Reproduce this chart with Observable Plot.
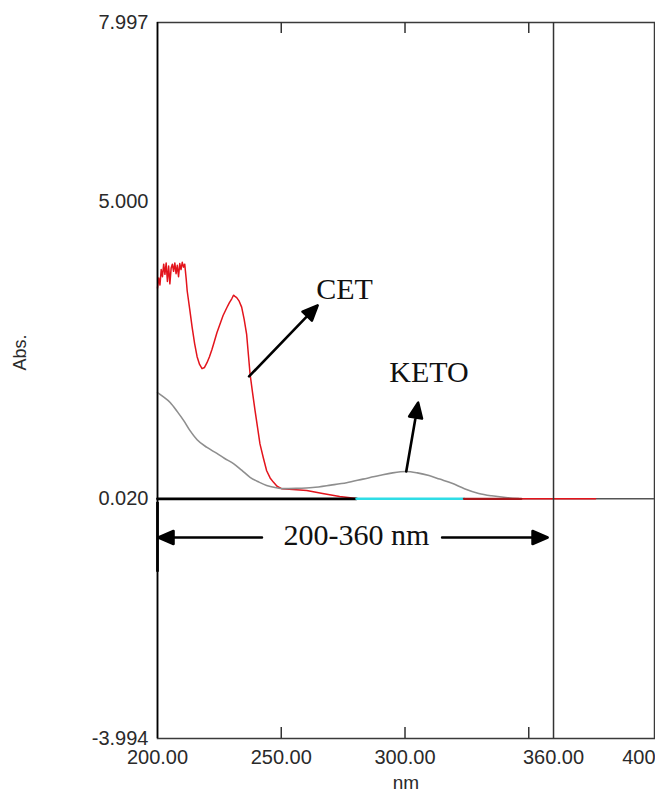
<!DOCTYPE html>
<html>
<head>
<meta charset="utf-8">
<script src="https://cdn.jsdelivr.net/npm/d3@7"></script>
<script src="https://cdn.jsdelivr.net/npm/@observablehq/plot@0.6"></script>
<style>
  html, body { margin: 0; padding: 0; background: #ffffff; }
  #chart svg { display: block; }
</style>
</head>
<body>
<div id="chart"></div>
<script>
// ---- Data ----
const xDomain = [200, 400.8];
const yDomain = [-3.994, 7.997];

const yTickValues = [7.997, 5.000, 0.020, -3.994];
const yTickLabels = ["7.997", "5.000", "0.020", "-3.994"];

const xTickValues = [200, 250, 300, 360, 400];
const xTickLabels = ["200.00", "250.00", "300.00", "360.00", "400"];
const xTickMarks = [250, 300, 350];

// CET spectrum (red)
const cetNm = [200, 200.5, 201, 201.5, 202, 202.5, 203, 203.5, 204, 204.5, 205, 205.5, 206, 206.5, 207, 207.5, 208, 208.5, 209, 209.5, 210, 210.5, 211, 211.6,
  212, 213, 214, 215, 216, 217, 218, 219, 220, 221, 222, 223, 224, 225.3, 226.5, 228, 229, 230, 230.7, 231.3, 232, 233, 234, 235, 236,
  237.4, 238.4, 239.4, 240.4, 241.4, 242.8, 244.1, 245.5, 246.8, 248.3, 250.1, 254.7, 260.3, 266.7, 273.6, 280.4, 377];
const cetAbs = [3.55, 3.72, 3.60, 3.86, 3.74, 3.95, 3.78, 3.97, 3.66, 3.92, 3.62, 3.88, 3.95, 3.83, 3.97, 3.79, 3.93, 3.74, 3.96, 3.86, 3.98, 3.90, 3.95, 3.70,
  3.50, 3.20, 2.89, 2.62, 2.40, 2.27, 2.20, 2.22, 2.30, 2.40, 2.52, 2.66, 2.80, 2.95, 3.09, 3.22, 3.30, 3.37, 3.43, 3.41, 3.39, 3.33, 3.23, 3.03, 2.78,
  2.11, 1.80, 1.50, 1.22, 0.94, 0.70, 0.49, 0.37, 0.30, 0.23, 0.19, 0.175, 0.16, 0.11, 0.06, 0.025, 0.02];

// KETO spectrum (gray)
const ketoNm = [200, 202, 205.2, 208, 210.6, 213, 216, 220, 224, 227, 230.7, 234, 237.4, 241, 244.1, 247.5, 250.8, 256, 262.7, 270, 276.4,
  283, 289.6, 295, 300.5, 305, 309.7, 314, 319, 324, 329.8, 335, 340.7, 345.9];
const ketoAbs = [1.80, 1.74, 1.63, 1.48, 1.33, 1.17, 1.01, 0.88, 0.78, 0.70, 0.61, 0.50, 0.38, 0.30, 0.245, 0.21, 0.19, 0.195, 0.21, 0.25, 0.29,
  0.35, 0.41, 0.455, 0.478, 0.455, 0.41, 0.35, 0.28, 0.19, 0.11, 0.07, 0.042, 0.025];

// Baseline traces near zero
const baseBlackNm = [200, 280.4];
const baseCyanNm = [280.4, 323.8];
const baseDarkRedNm = [323.8, 347];
const baseLevel = 0.02;

const cutoffNm = 360;

// Annotations (data units)
const labelTexts = ["CET", "KETO", "200-360 nm"];
const labelNm = [275.6, 309.7, 280.4];
const labelAbs = [3.53, 2.13, -0.60];

const arrowNames = ["CET", "KETO", "left", "right"];
const arrowX1 = [237.0, 300.5, 242.2, 315.0];
const arrowY1 = [2.07, 0.478, -0.628, -0.628];
const arrowX2 = [264.7, 305.3, 200.4, 357.6];
const arrowY2 = [3.26, 1.63, -0.628, -0.628];
const rangeBar = {nm: 200, y1: -0.04, y2: -1.21};

// ---- Build tables ----
const cet = cetNm.map((x, i) => ({x, y: cetAbs[i]}));
const keto = ketoNm.map((x, i) => ({x, y: ketoAbs[i]}));
const seg = (arr) => arr.map(x => ({x, y: baseLevel}));
const labels = labelTexts.map((t, i) => ({text: t, x: labelNm[i], y: labelAbs[i]}));
const arrows = arrowNames.map((n, i) => ({name: n, x1: arrowX1[i], y1: arrowY1[i], x2: arrowX2[i], y2: arrowY2[i]}));

// layout
const W = 655, H = 792, mL = 157, mR = 1, mT = 22, mB = 54;
const tickLen = 11;
const sx = Plot.scale({x: {domain: xDomain, range: [mL, W - mR]}});
const sy = Plot.scale({y: {domain: yDomain, range: [H - mB, mT]}});
const bottomTickTop = sy.invert(H - mB - tickLen);
const topTickBottom = sy.invert(mT + tickLen);

function arrowShape(head, halfW) {
  return {draw(ctx, l) {
    ctx.moveTo(0, 0); ctx.lineTo(0, -(l - head + 2));
    ctx.moveTo(0, -l); ctx.lineTo(-halfW, -l + head); ctx.lineTo(halfW, -l + head); ctx.closePath();
  }};
}

const arrowMarks = arrows.map(a => {
  const px1 = sx.apply(a.x1), py1 = sy.apply(a.y1), px2 = sx.apply(a.x2), py2 = sy.apply(a.y2);
  const dx = px2 - px1, dy = py2 - py1;
  const len = Math.hypot(dx, dy);
  const rot = Math.atan2(dx, -dy) * 180 / Math.PI;
  return Plot.vector([a], {
    x: "x1", y: "y1", length: len, rotate: rot, anchor: "start",
    shape: arrowShape(15, 6.5), stroke: "#000", fill: "#000", strokeWidth: 2.6
  });
});

const chart = Plot.plot({
  width: W, height: H,
  marginLeft: mL, marginRight: mR, marginTop: mT, marginBottom: mB,
  x: {domain: xDomain, axis: null},
  y: {domain: yDomain, axis: null},
  style: {background: "#ffffff", fontFamily: "Liberation Sans, Arial, sans-serif", overflow: "hidden"},
  marks: [
    Plot.frame({stroke: "#3a3a3a", strokeWidth: 1.5}),
    Plot.ruleY([baseLevel], {stroke: "#555", strokeWidth: 1.5}),
    Plot.line(cet, {x: "x", y: "y", stroke: "#e3141c", strokeWidth: 1.5}),
    Plot.line(keto, {x: "x", y: "y", stroke: "#8e8e8e", strokeWidth: 1.6, curve: "monotone-x"}),
    Plot.line(seg(baseBlackNm), {x: "x", y: "y", stroke: "#000", strokeWidth: 2.8}),
    Plot.line(seg(baseCyanNm), {x: "x", y: "y", stroke: "#2fdde6", strokeWidth: 2.5}),
    Plot.line(seg(baseDarkRedNm), {x: "x", y: "y", stroke: "#a8181c", strokeWidth: 2.3}),
    Plot.ruleX([cutoffNm], {stroke: "#333", strokeWidth: 1.5}),
    Plot.ruleX([xDomain[0]], {stroke: "#000", strokeWidth: 1.6}),
    // inward tick marks (bottom and top)
    Plot.ruleX(xTickMarks, {x: d => d, y1: () => yDomain[0], y2: () => bottomTickTop, stroke: "#333", strokeWidth: 1.5}),
    Plot.ruleX(xTickMarks, {x: d => d, y1: () => topTickBottom, y2: () => yDomain[1], stroke: "#333", strokeWidth: 1.5}),
    // tick labels
    Plot.text(yTickValues, {y: d => d, frameAnchor: "left", dx: -9, textAnchor: "end", text: (d, i) => yTickLabels[i], fontSize: 20, fill: "#2a2a2a"}),
    Plot.text(xTickValues.slice(0, 4), {x: d => d, frameAnchor: "bottom", dy: 25, text: (d, i) => xTickLabels[i], fontSize: 20, fill: "#2a2a2a"}),
    Plot.text(xTickValues.slice(4), {x: d => d, frameAnchor: "bottom", dy: 25, dx: 3, textAnchor: "end", text: (d, i) => xTickLabels[4 + i], fontSize: 20, fill: "#2a2a2a"}),
    Plot.text(["Abs."], {frameAnchor: "left", dx: -137, dy: -10, rotate: -90, text: d => d, fontSize: 18, fill: "#2a2a2a"}),
    Plot.text(["nm"], {frameAnchor: "bottom", dy: 37, lineAnchor: "top", text: d => d, fontSize: 19, fill: "#2a2a2a"}),
    // annotations
    Plot.ruleX([rangeBar], {x: "nm", y1: "y1", y2: "y2", stroke: "#000", strokeWidth: 2.8}),
    ...arrowMarks,
    Plot.text(labels, {x: "x", y: "y", text: "text", fontFamily: "Liberation Serif, Times New Roman, serif", fontSize: 30, fill: "#111"})
  ]
});
document.getElementById("chart").appendChild(chart);
</script>
</body>
</html>
